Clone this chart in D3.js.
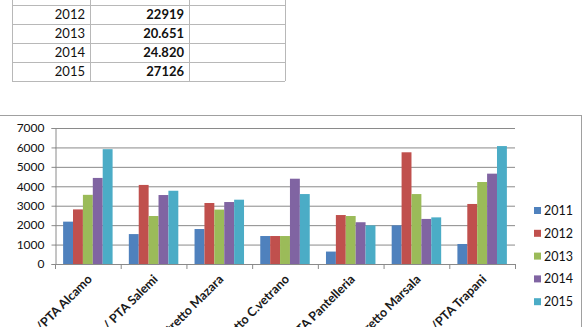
<!DOCTYPE html>
<meta charset="utf-8">
<style>
    body { margin: 0; background: #fff; }
    svg { display: block; font-family: Lato, "Liberation Sans", sans-serif; }
</style>
<svg width="582" height="327"></svg>
<script src="https://d3js.org/d3.v7.min.js"></script>
<script>

// table rows (first row is cut off at the top of the picture)
var tableYears = ["2011", "2012", "2013", "2014", "2015"];
var tableTotals = ["21.172", "22919", "20.651", "24.820", "27126"];

// chart data
var categories = ["Distretto/PTA Alcamo", "Distretto/ PTA Salemi", "Distretto  Mazara", "Distretto C.vetrano",
                  "Distretto/PTA Pantelleria", "Distretto Marsala", "Distretto/PTA Trapani"];
var years = ["2011", "2012", "2013", "2014", "2015"];
var v2011 = [2180, 1540, 1800, 1440, 640, 1990, 1030];
var v2012 = [2810, 4070, 3140, 1440, 2520, 5750, 3090];
var v2013 = [3560, 2470, 2800, 1440, 2470, 3600, 4220];
var v2014 = [4430, 3550, 3190, 4390, 2150, 2320, 4650];
var v2015 = [5910, 3770, 3310, 3600, 1990, 2400, 6070];
var yTicks = [0, 1000, 2000, 3000, 4000, 5000, 6000, 7000];
var colors = ["#4F81BD", "#C0504D", "#9BBB59", "#8064A2", "#4BACC6"];

var series = [v2011, v2012, v2013, v2014, v2015];

var svg = d3.select("svg");

// ---- spreadsheet table ----
var rowY = d3.scaleBand().domain(tableYears).range([-14, 81]);
var colX = [12, 90, 189, 285];
var tbl = svg.append("g").attr("class", "table");

tbl.selectAll("line.h")
    .data(tableYears.map(function(d) { return rowY(d) + rowY.bandwidth(); }))
  .enter().append("line")
    .attr("x1", colX[0]).attr("x2", colX[3])
    .attr("y1", function(d) { return d + 0.5; }).attr("y2", function(d) { return d + 0.5; })
    .attr("stroke", "#b8b8b8");

tbl.selectAll("line.v")
    .data(colX)
  .enter().append("line")
    .attr("x1", function(d) { return d + 0.5; }).attr("x2", function(d) { return d + 0.5; })
    .attr("y1", 0).attr("y2", 81)
    .attr("stroke", "#b8b8b8");

tbl.selectAll("text.yr")
    .data(tableYears)
  .enter().append("text")
    .attr("x", 85)
    .attr("y", function(d) { return rowY(d) + rowY.bandwidth() / 2 + 4.5; })
    .attr("text-anchor", "end")
    .attr("font-size", 13)
    .attr("fill", "#111")
    .text(function(d) { return d; });

tbl.selectAll("text.val")
    .data(tableTotals)
  .enter().append("text")
    .attr("x", 184)
    .attr("y", function(d, i) { return rowY(tableYears[i]) + rowY.bandwidth() / 2 + 4.5; })
    .attr("text-anchor", "end")
    .attr("font-size", 13)
    .attr("font-weight", "bold")
    .attr("fill", "#111")
    .text(function(d) { return d; });

// ---- chart area frame ----
svg.append("rect")
    .attr("x", -5).attr("y", 115.5)
    .attr("width", 586.5).attr("height", 230)
    .attr("fill", "none")
    .attr("stroke", "#a0a0a0");

// ---- bar chart ----
var x0 = d3.scaleBand().domain(categories).range([55, 515]);
var x1 = d3.scaleBand().domain(years).range([0, x0.bandwidth()]).paddingOuter(0.82);
var y = d3.scaleLinear().domain([0, 7000]).range([264, 128]);

// gridlines
svg.append("g")
    .attr("transform", "translate(55,0)")
    .call(d3.axisLeft(y).tickValues(yTicks).tickSize(-460).tickFormat(""))
    .call(function(g) { g.select(".domain").remove(); })
    .selectAll("line").attr("stroke", "#8a8a8a");

var groups = svg.append("g").selectAll("g")
    .data(categories)
  .enter().append("g")
    .attr("transform", function(d) { return "translate(" + x0(d) + ",0)"; });

groups.selectAll("rect")
    .data(function(d, i) { return series.map(function(s, j) { return {year: years[j], value: s[i], k: j}; }); })
  .enter().append("rect")
    .attr("x", function(d) { return x1(d.year); })
    .attr("width", x1.bandwidth())
    .attr("y", function(d) { return y(d.value); })
    .attr("height", function(d) { return y(0) - y(d.value); })
    .attr("fill", function(d) { return colors[d.k]; });

// y axis
var yAxis = svg.append("g")
    .attr("transform", "translate(55.5,0)")
    .call(d3.axisLeft(y).tickValues(yTicks).tickSize(4).tickPadding(7).tickFormat(d3.format("d")));
yAxis.select(".domain").attr("stroke", "#8a8a8a");
yAxis.selectAll("line").attr("stroke", "#8a8a8a");
yAxis.selectAll("text").attr("font-size", 12).attr("font-family", "Lato, sans-serif").attr("fill", "#111");

// x axis line and ticks at category boundaries
var xa = svg.append("g");
xa.append("line")
    .attr("x1", 55).attr("x2", 515)
    .attr("y1", y(0) + 0.5).attr("y2", y(0) + 0.5)
    .attr("stroke", "#8a8a8a");
xa.selectAll("line.tk")
    .data(d3.range(categories.length + 1))
  .enter().append("line")
    .attr("x1", function(i) { return x0.range()[0] + i * x0.step() + 0.5; })
    .attr("x2", function(i) { return x0.range()[0] + i * x0.step() + 0.5; })
    .attr("y1", y(0)).attr("y2", y(0) + 5)
    .attr("stroke", "#8a8a8a");

xa.selectAll("text")
    .data(categories)
  .enter().append("text")
    .attr("transform", function(d) {
        return "translate(" + (x0(d) + x0.bandwidth() / 2 + 5) + "," + (y(0) + 16) + ") rotate(-45)";
    })
    .attr("text-anchor", "end")
    .attr("font-size", 12.5)
    .attr("font-weight", "bold")
    .attr("fill", "#1a1a1a")
    .text(function(d) { return d; });

// legend
var legend = svg.append("g").selectAll("g")
    .data(years)
  .enter().append("g")
    .attr("transform", function(d, i) { return "translate(534," + (210.5 + i * 22.8) + ")"; });
legend.append("rect")
    .attr("x", 0).attr("y", -3.5)
    .attr("width", 7).attr("height", 7)
    .attr("fill", function(d, i) { return colors[i]; });
legend.append("text")
    .attr("x", 10).attr("y", 4.5)
    .attr("font-size", 12.5)
    .attr("fill", "#111")
    .text(function(d) { return d; });

</script>
